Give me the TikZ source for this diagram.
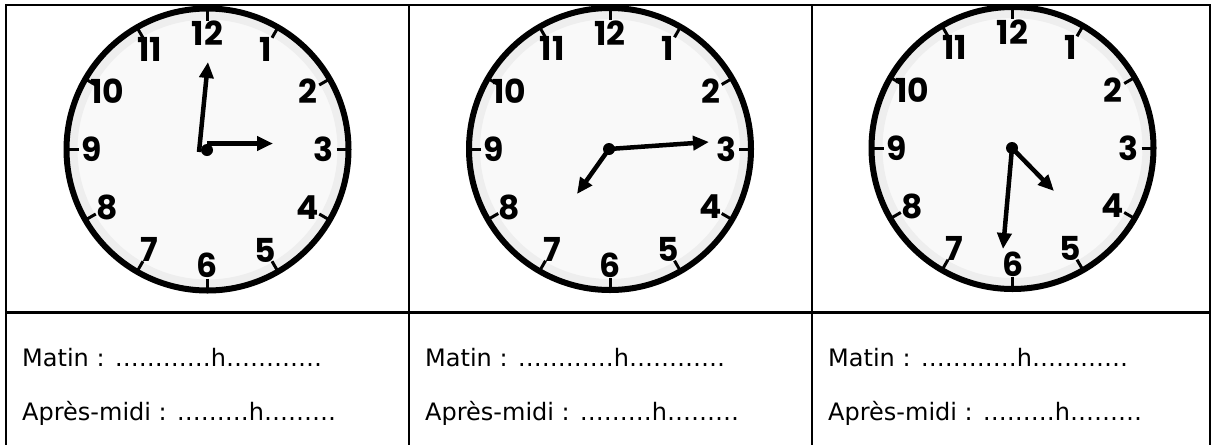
\documentclass[tikz,border=0pt]{standalone}
\usepackage{fontspec}
\setmainfont{DejaVu Sans}
\newfontfamily\digfont{Poppins}
\usetikzlibrary{arrows.meta,calc}
\tikzset{
  rule/.style={line width=2.4pt},
  hand/.style={line width=4.5pt,-{Triangle[length=16pt,width=14pt]}},
  hub/.style={circle,fill=black,inner sep=0pt,minimum size=12pt},
  num/.style={font=\digfont\bfseries\fontsize{33}{33}\selectfont,inner sep=0pt},
  lbl/.style={font=\fontsize{24}{24}\selectfont,anchor=base west,inner sep=0pt}
}
\begin{document}
\begin{tikzpicture}[x=1pt,y=-1pt]
\useasboundingbox (0,0) rectangle (1213,445);
% table
\draw[rule] (6,5) -- (1210,5);
\draw[rule] (6,4) -- (6,445);
\draw[rule] (409,4) -- (409,445);
\draw[rule] (812,4) -- (812,445);
\draw[rule] (1210,4) -- (1210,445);
\draw[rule] (6,312.5) -- (1210,312.5);
\fill[white] (63,0) rectangle (352,4.4);
\fill[white] (466,0) rectangle (755,4.4);
\fill[white] (868,0) rectangle (1157,4.4);
% clocks
\foreach \cx/\cy/\nm in {207.5/149.5/c1, 610/149/c2, 1012.5/148/c3}{
  \coordinate (\nm) at (\cx,\cy);
  \fill[gray!5] (\nm) circle[radius=141];
  \draw[gray!13,line width=8pt] (\nm) circle[radius=134];
  \draw[line width=6pt] (\nm) circle[radius=141];
  \foreach \k in {0,...,11}{
    \draw[line width=3pt] ($(\nm)+(\k*30:129)$) -- ($(\nm)+(\k*30:143)$);
  }
  \foreach \k in {1,...,12}{
    \node[num] (\nm-n\k) at ($(\nm)+(-90+30*\k:116)$) {\k};
  }
}
% clock 1 : 3:00
\node[hub] (h1) at (207,150) {};
\coordinate (c1mb) at (199,152);
\coordinate (c1mt) at (208,62);
\coordinate (c1hb) at (207,143.5);
\coordinate (c1ht) at (273,143.5);
\draw[hand] (c1mb) -- (c1mt);
\draw[hand] (c1hb) -- (c1ht);
% clock 2 : 7:15
\node[hub] (h2) at (609,149) {};
\coordinate (c2mt) at (709,142);
\coordinate (c2ht) at (577,194);
\draw[hand] (h2.center) -- (c2mt);
\draw[hand] (h2.center) -- (c2ht);
% clock 3 : 4:30
\node[hub] (h3) at (1012,148) {};
\coordinate (c3ht) at (1054,191);
\coordinate (c3mt) at (1003,249);
\draw[hand] (h3.center) -- (c3ht);
\draw[hand] (h3.center) -- (c3mt);
% labels
\foreach \x/\i in {22/1, 425/2, 828/3}{
  \node[lbl] (matin\i) at (\x,366) {Matin : …………h…………};
  \node[lbl] (apres\i) at (\x,420) {Après-midi : ………h………};
}
\end{tikzpicture}
\end{document}
